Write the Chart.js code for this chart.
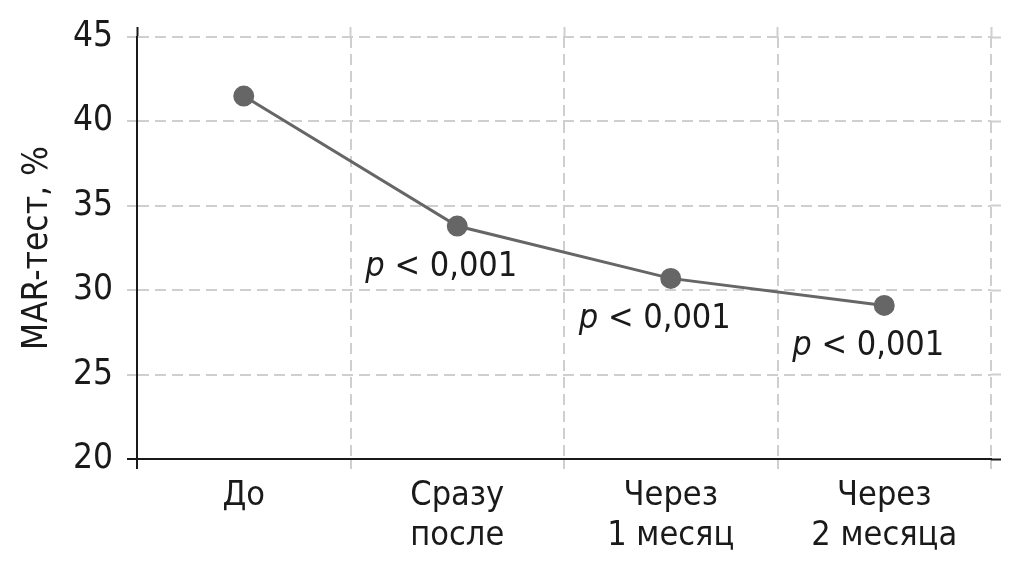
<!DOCTYPE html>
<html>
<head>
<meta charset="utf-8">
<script src="https://cdn.jsdelivr.net/npm/chart.js@4/dist/chart.umd.min.js"></script>
<style>
  html, body { margin: 0; padding: 0; background: #fff; }
  #wrap { width: 1024px; height: 564px; }
</style>
</head>
<body>
<div id="wrap"><canvas id="chart"></canvas></div>
<script>
(function () {
    "use strict";

    const categories = [["До"], ["Сразу", "после"], ["Через", "1 месяц"], ["Через", "2 месяца"]];
    const marValues = [41.5, 33.8, 30.7, 29.1];
    const pValues = [null, "0,001", "0,001", "0,001"];
    const yTicks = [20, 25, 30, 35, 40, 45];

    const FONT = "'Liberation Sans Narrow', 'DejaVu Sans Condensed', Roboto, sans-serif";
    const INK = "#1a1a1a";
    const GRID = "#cfcfcf";
    const LINE = "#666666";

    // p-value annotations under the points
    const pLabels = {
        id: "pLabels",
        afterDatasetsDraw(chart) {
            const { ctx, scales: { x, y } } = chart;
            ctx.save();
            ctx.fillStyle = INK;
            ctx.textBaseline = "alphabetic";
            pValues.forEach((txt, i) => {
                if (!txt) return;
                const px = x.getPixelForValue(i) - 92;
                const py = y.getPixelForValue(marValues[i]) + 50;
                ctx.font = "italic 34px " + FONT;
                ctx.fillText("p", px, py);
                const w = ctx.measureText("p ").width;
                ctx.font = "34px " + FONT;
                ctx.fillText("< " + txt, px + w, py);
            });
            ctx.restore();
        },
    };

    const edgeTick = (black) => (ctx) => (black(ctx) ? INK : GRID);

    new Chart(document.getElementById("chart"), {
        type: "line",
        data: {
            labels: categories,
            datasets: [
                {
                    data: marValues,
                    borderColor: LINE,
                    borderWidth: 3,
                    backgroundColor: LINE,
                    pointBackgroundColor: LINE,
                    pointBorderColor: LINE,
                    pointRadius: 9,
                    tension: 0,
                },
            ],
        },
        options: {
            responsive: true,
            maintainAspectRatio: false,
            animation: false,
            layout: {
                padding: { top: 27, right: 23, left: 0, bottom: 0 },
            },
            plugins: {
                legend: { display: false },
                tooltip: { enabled: false },
            },
            scales: {
                x: {
                    type: "category",
                    offset: true,
                    grid: {
                        offset: true,
                        color: GRID,
                        lineWidth: 2,
                        tickLength: 10,
                        tickWidth: 2,
                        tickColor: edgeTick((c) => c.index === 0),
                    },
                    border: { color: INK, width: 2, dash: [11, 6] },
                    ticks: {
                        color: INK,
                        font: { family: FONT, size: 34, lineHeight: 1.18 },
                        padding: 7,
                        maxRotation: 0,
                        autoSkip: false,
                    },
                    afterFit(scale) {
                        scale.height = 105;
                    },
                },
                x2: {
                    type: "category",
                    position: "top",
                    offset: true,
                    grid: {
                        offset: true,
                        drawOnChartArea: false,
                        tickLength: 10,
                        tickWidth: 2,
                        tickColor: edgeTick((c) => c.index === 0),
                    },
                    border: { display: false },
                    ticks: { display: false },
                },
                y: {
                    min: 20,
                    max: 45,
                    afterBuildTicks(scale) {
                        scale.ticks = yTicks.map((v) => ({ value: v }));
                    },
                    grid: {
                        color: GRID,
                        lineWidth: 2,
                        tickLength: 10,
                        tickWidth: 2,
                        tickColor: edgeTick((c) => c.tick && c.tick.value === 20),
                    },
                    border: { color: INK, width: 2, dash: [11, 6] },
                    ticks: {
                        color: INK,
                        font: { family: FONT, size: 35 },
                        padding: 14,
                    },
                    title: {
                        display: true,
                        text: "MAR-тест, %",
                        color: INK,
                        font: { family: FONT, size: 35 },
                        padding: { top: 17, bottom: 0 },
                    },
                    afterFit(scale) {
                        scale.width = 137;
                    },
                },
                y2: {
                    position: "right",
                    min: 20,
                    max: 45,
                    afterBuildTicks(scale) {
                        scale.ticks = yTicks.map((v) => ({ value: v }));
                    },
                    grid: {
                        drawOnChartArea: false,
                        tickLength: 10,
                        tickWidth: 2,
                        tickColor: edgeTick((c) => c.tick && c.tick.value === 20),
                    },
                    border: { display: false },
                    ticks: { display: false },
                },
            },
        },
        plugins: [pLabels],
    });
})();
</script>
</body>
</html>
